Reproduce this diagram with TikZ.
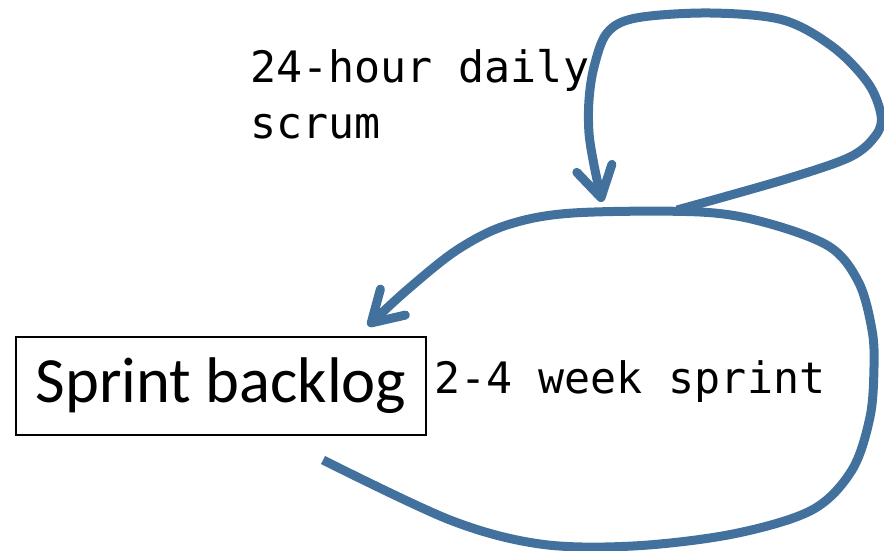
\documentclass[tikz,border=0pt]{standalone}
\usepackage{fontspec}
\setmainfont{Carlito}
\newfontfamily\monofnt{DejaVu Sans Mono}
\usetikzlibrary{arrows.meta}
\definecolor{loopblue}{RGB}{65,113,156}
\tikzset{
  loopline/.style={draw=loopblue, line width=9pt, line cap=butt, line join=round,
    -{Straight Barb[length=30pt 0, width=36pt 0, round]}},
  backlogbox/.style={draw=black, line width=1.5pt, minimum width=410pt, minimum height=98pt,
    inner sep=0pt, font=\fontsize{64.5}{70}\selectfont},
  monolabel/.style={inner sep=0pt, anchor=base west, align=left,
    font=\monofnt\fontsize{43.3}{55}\selectfont}
}
\begin{document}
\begin{tikzpicture}[x=1pt,y=-1pt]
\useasboundingbox (0,0) rectangle (884,551);
\node[backlogbox] (bk) at (221,386) {Sprint backlog};
\node[monolabel] (daily) at (250,138) {24-hour daily\\scrum};
\node[monolabel] (sprint) at (434,393) {2-4 week sprint};
\coordinate (bigstart) at (323,460);
\coordinate (bigtip) at (368,326);
\coordinate (smallstart) at (677,210);
\coordinate (smalltip) at (602,202);
\draw[loopline] plot[smooth, tension=0.55] coordinates {
  (bigstart) (450,520) (540,544) (633,546) (733,534) (812,510) (852,470)
  (870,417) (874,367) (872,330) (859,283) (830,247) (767,223) (700,212)
  (573,213) (507,225) (457,250) (407,290) (bigtip)};
\draw[loopline] plot[smooth, tension=0.55] coordinates {
  (smallstart) (783,180) (850,157) (876,135) (881,115) (868,83) (833,47)
  (783,20) (710,13) (636,18) (607,33) (594,67) (589,100) (589,133) (594,165) (smalltip)};
\end{tikzpicture}
\end{document}
